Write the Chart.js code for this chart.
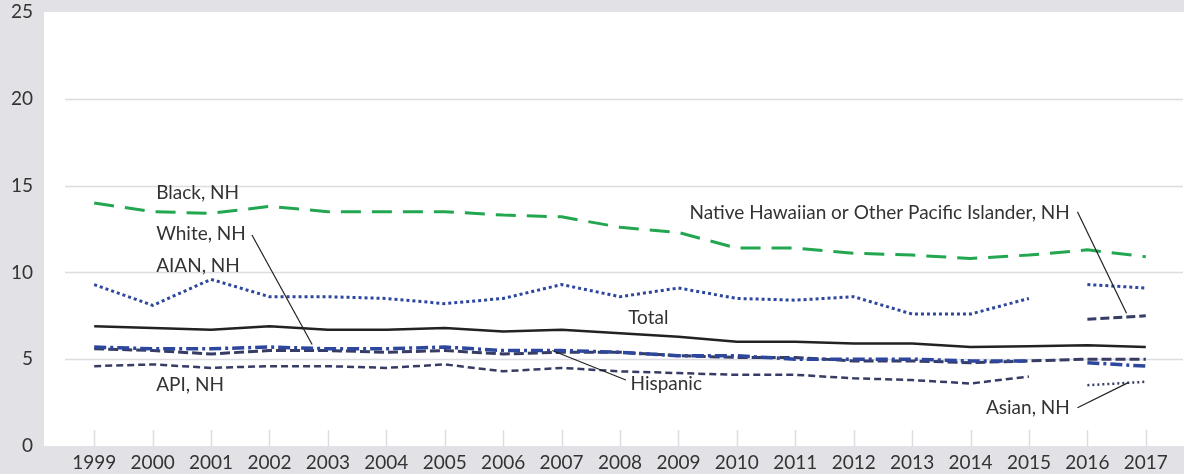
<!DOCTYPE html>
<html>
<head>
<meta charset="utf-8">
<script src="https://cdn.jsdelivr.net/npm/chart.js@4.4.1/dist/chart.umd.min.js"></script>
<style>
  html, body { margin: 0; padding: 0; background: #e1e1e6; }
  #wrap { width: 1184px; height: 474px; }
</style>
</head>
<body>
<div id="wrap"><canvas id="c" width="1184" height="474"></canvas></div>
<script>
// ---- Data ----
const years = ['1999','2000','2001','2002','2003','2004','2005','2006','2007','2008','2009','2010','2011','2012','2013','2014','2015','2016','2017'];
const yTicks = [0, 5, 10, 15, 20, 25];

const blackNH  = [14.0, 13.5, 13.4, 13.8, 13.5, 13.5, 13.5, 13.3, 13.2, 12.6, 12.3, 11.4, 11.4, 11.1, 11.0, 10.8, 11.0, 11.3, 10.9];
const totalAll = [6.9, 6.8, 6.7, 6.9, 6.7, 6.7, 6.8, 6.6, 6.7, 6.5, 6.3, 6.0, 6.0, 5.9, 5.9, 5.7, 5.75, 5.8, 5.7];
const hispanic = [5.6, 5.5, 5.3, 5.5, 5.5, 5.4, 5.5, 5.3, 5.4, 5.4, 5.2, 5.1, 5.1, 4.9, 4.9, 4.8, 4.9, 5.0, 5.0];

// 1999-2015 (old race categories)
const aian9915  = [9.3, 8.1, 9.6, 8.6, 8.6, 8.5, 8.2, 8.5, 9.3, 8.6, 9.1, 8.5, 8.4, 8.6, 7.6, 7.6, 8.5];
const white9915 = [5.7, 5.6, 5.6, 5.7, 5.6, 5.6, 5.7, 5.5, 5.5, 5.4, 5.2, 5.2, 5.0, 5.0, 5.0, 4.9, 4.9];
const api9915   = [4.6, 4.7, 4.5, 4.6, 4.6, 4.5, 4.7, 4.3, 4.5, 4.3, 4.2, 4.1, 4.1, 3.9, 3.8, 3.6, 4.0];

// 2016-2017 (new race categories)
const aian1617  = [9.3, 9.1];
const white1617 = [4.8, 4.6];
const nhopi1617 = [7.3, 7.5];
const asian1617 = [3.5, 3.7];

// annotation labels: [text, categoryIndex, value, align]
const labelTexts = [
  ['Black, NH', 1.06, 14.6, 'left'],
  ['White, NH', 1.06, 12.2, 'left'],
  ['AIAN, NH', 1.06, 10.4, 'left'],
  ['API, NH', 1.06, 3.5, 'left'],
  ['Total', 9.14, 7.4, 'left'],
  ['Hispanic', 9.18, 3.55, 'left'],
  ['Native Hawaiian or Other Pacific Islander, NH', 16.7, 13.45, 'right'],
  ['Asian, NH', 16.7, 2.2, 'right']
];
// leader lines: [fromIndex, fromValue, toIndex, toValue]
const leaders = [
  [2.70, 12.15, 3.73, 5.85],
  [9.10, 3.80, 7.84, 5.50],
  [16.83, 13.5, 17.67, 7.65],
  [16.83, 2.2, 17.70, 3.65]
];

// ---- helpers ----
const nOld = aian9915.length;
function early(arr) { return years.map((_, i) => i < nOld ? arr[i] : null); }
function late(arr)  { return years.map((_, i) => i >= nOld ? arr[i - nOld] : null); }

const GREEN = '#22a650', BLUE = '#2c479d', NAVY = '#363c63', BLACK = '#222222';
function ds(label, data, color, width, dash) {
  return { label, data, borderColor: color, backgroundColor: color, borderWidth: width,
           borderDash: dash, pointRadius: 0, pointHoverRadius: 0, tension: 0,
           spanGaps: false, borderCapStyle: 'butt', fill: false };
}

const datasets = [
  ds('Black, NH', blackNH, GREEN, 3, [20, 11]),
  ds('AIAN, NH', early(aian9915), BLUE, 3, [3, 3]),
  ds('AIAN, NH (2016+)', late(aian1617), BLUE, 3, [3, 3]),
  ds('NHOPI, NH', late(nhopi1617), NAVY, 3, [9, 4]),
  ds('Total', totalAll, BLACK, 2.5, []),
  ds('White, NH', early(white9915), BLUE, 3.5, [12, 4, 3, 4]),
  ds('White, NH (2016+)', late(white1617), BLUE, 3.5, [12, 4, 3, 4]),
  ds('Hispanic', hispanic, NAVY, 3, [10, 4]),
  ds('API, NH', early(api9915), NAVY, 2.5, [7, 4]),
  ds('Asian, NH', late(asian1617), NAVY, 2.5, [2, 3])
];

const FONT = 'Lato, "Open Sans", sans-serif';
const FSIZE = 19;
const GRID = '#dcdce1';

const decor = {
  id: 'decor',
  beforeDraw(chart) {
    const { ctx, chartArea: a, width, height } = chart;
    ctx.save();
    ctx.fillStyle = '#e1e1e6';
    ctx.fillRect(0, 0, width, height);
    ctx.fillStyle = '#ffffff';
    ctx.fillRect(a.left - 21, a.top, width - (a.left - 21), a.bottom - a.top);
    ctx.restore();
  },
  beforeDatasetsDraw(chart) {
    const { ctx, chartArea: a, scales } = chart;
    ctx.save();
    ctx.strokeStyle = GRID;
    ctx.lineWidth = 1.5;
    yTicks.forEach(v => {
      if (v === 0 || v === 25) return;
      const y = Math.round(scales.y.getPixelForValue(v)) + 0.5;
      ctx.beginPath(); ctx.moveTo(a.left, y); ctx.lineTo(a.right + 8, y); ctx.stroke();
    });
    years.forEach((_, i) => {
      const x = Math.round(scales.x.getPixelForTick(i)) + 0.5;
      ctx.beginPath(); ctx.moveTo(x, a.bottom - 16); ctx.lineTo(x, a.bottom); ctx.stroke();
    });
    ctx.restore();
  },
  afterDatasetsDraw(chart) {
    const { ctx, scales } = chart;
    const px = i => scales.x.getPixelForDecimal((i + 0.5) / years.length);
    const py = v => scales.y.getPixelForValue(v);
    ctx.save();
    ctx.strokeStyle = '#222';
    ctx.lineWidth = 1.2;
    leaders.forEach(([i1, v1, i2, v2]) => {
      ctx.beginPath(); ctx.moveTo(px(i1), py(v1)); ctx.lineTo(px(i2), py(v2)); ctx.stroke();
    });
    ctx.fillStyle = '#333333';
    ctx.font = FSIZE + 'px ' + FONT;
    ctx.textBaseline = 'middle';
    labelTexts.forEach(([t, i, v, al]) => {
      ctx.textAlign = al;
      ctx.fillText(t, px(i), py(v));
    });
    ctx.restore();
  }
};

new Chart(document.getElementById('c'), {
  type: 'line',
  data: { labels: years, datasets },
  options: {
    responsive: false,
    devicePixelRatio: 1,
    animation: false,
    events: [],
    layout: { autoPadding: false, padding: { left: 0, right: 9, top: 12, bottom: 0 } },
    plugins: { legend: { display: false }, tooltip: { enabled: false }, title: { display: false } },
    scales: {
      x: {
        type: 'category',
        offset: true,
        grid: { display: false, drawTicks: false },
        border: { display: false },
        ticks: { color: '#333333', font: { family: FONT, size: FSIZE }, padding: 5, maxRotation: 0, autoSkip: false },
        afterFit(s) { s.height = 28; s.paddingLeft = 0; s.paddingRight = 0; }
      },
      y: {
        min: 0, max: 25,
        afterBuildTicks(s) { s.ticks = yTicks.map(v => ({ value: v })); },
        grid: { display: false, drawTicks: false },
        border: { display: false },
        ticks: { color: '#333333', font: { family: FONT, size: FSIZE }, padding: 32 },
        afterFit(s) { s.width = 65; s.paddingTop = 0; s.paddingBottom = 0; }
      }
    }
  },
  plugins: [decor]
});
</script>
</body>
</html>
